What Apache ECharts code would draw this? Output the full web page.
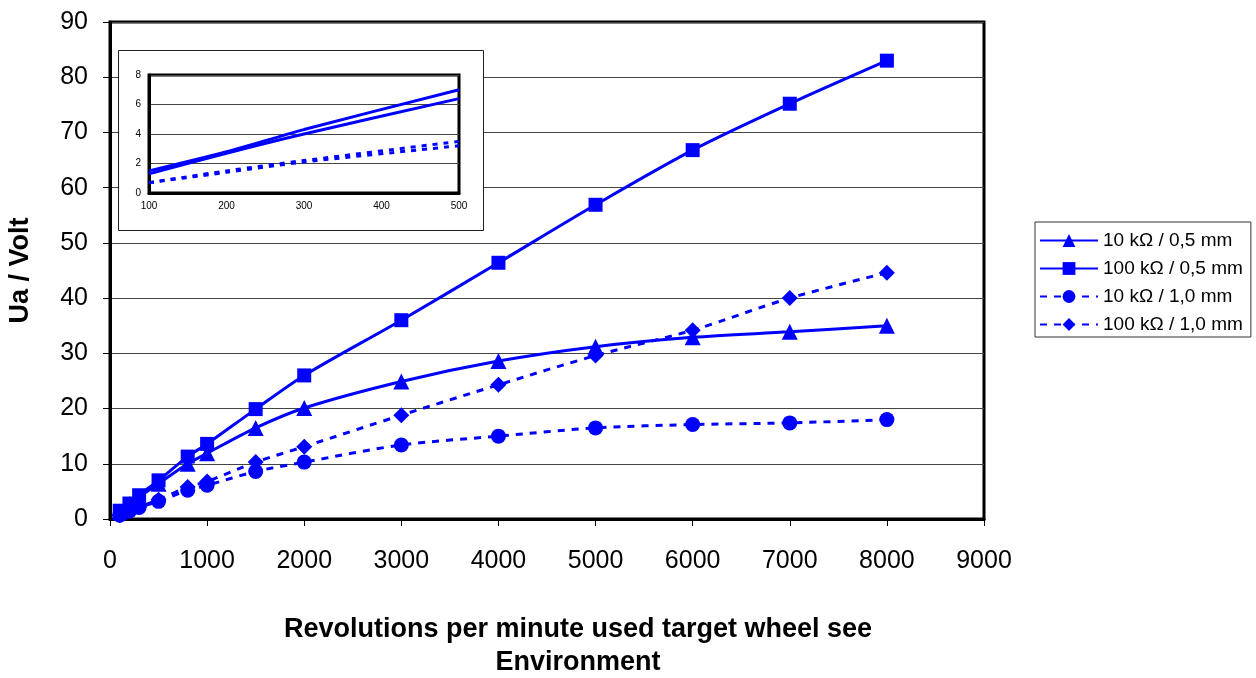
<!DOCTYPE html>
<html>
<head>
<meta charset="utf-8">
<script src="https://cdn.jsdelivr.net/npm/echarts@6/dist/echarts.min.js"></script>
<style>
  html, body { margin: 0; padding: 0; background: #fff; }
  #chart { width: 1256px; height: 678px; }
</style>
</head>
<body>
<div id="chart"></div>
<script>
(function() {
  var rpm = [100, 200, 300, 500, 800, 1000, 1500, 2000, 3000, 4000, 5000, 6000, 7000, 8000];
  var s10k05 = [1.3, 2.7, 4.0, 6.4, 10.0, 11.9, 16.5, 20.1, 24.9, 28.6, 31.2, 32.9, 33.9, 35.0];
  var s100k05 = [1.5, 2.8, 4.3, 7.0, 11.3, 13.6, 19.9, 26.0, 36.0, 46.4, 56.9, 66.8, 75.2, 83.0];
  var s10k10 = [0.7, 1.4, 2.1, 3.2, 5.2, 6.1, 8.6, 10.3, 13.4, 15.0, 16.5, 17.1, 17.4, 18.0];
  var s100k10 = [0.7, 1.5, 2.2, 3.5, 5.8, 6.8, 10.3, 13.1, 18.8, 24.3, 29.6, 34.2, 40.0, 44.6];
  var names = ['10 kΩ / 0,5 mm', '100 kΩ / 0,5 mm', '10 kΩ / 1,0 mm', '100 kΩ / 1,0 mm'];
  var insetMaxRpm = 500;

  var blue = '#0000ff';
  var font = '"Liberation Sans", Arial, sans-serif';

  function pairs(vals, maxX) {
    var out = [];
    for (var i = 0; i < rpm.length; i++) {
      if (maxX == null || rpm[i] <= maxX) out.push([rpm[i], vals[i]]);
    }
    return out;
  }

  var dashed = [7, 7];
  var seriesDefs = [
    { name: names[0], vals: s10k05, symbol: 'triangle', size: 16, dash: 'solid' },
    { name: names[1], vals: s100k05, symbol: 'rect', size: 14, dash: 'solid' },
    { name: names[2], vals: s10k10, symbol: 'circle', size: 15, dash: dashed },
    { name: names[3], vals: s100k10, symbol: 'diamond', size: 16, dash: dashed }
  ];

  var series = [];
  seriesDefs.forEach(function(d) {
    series.push({
      name: d.name,
      type: 'line',
      xAxisIndex: 0,
      yAxisIndex: 0,
      data: pairs(d.vals),
      smooth: 0.3,
      symbol: d.symbol,
      symbolSize: d.size,
      showSymbol: true,
      itemStyle: { color: blue },
      lineStyle: { color: blue, width: 3, type: d.dash },
      z: 2
    });
  });
  seriesDefs.forEach(function(d) {
    series.push({
      name: d.name + ' (inset)',
      type: 'line',
      xAxisIndex: 1,
      yAxisIndex: 1,
      data: pairs(d.vals, insetMaxRpm),
      smooth: 0.3,
      showSymbol: false,
      symbol: 'none',
      itemStyle: { color: blue },
      lineStyle: { color: blue, width: 3, type: d.dash === 'solid' ? 'solid' : [5, 6] },
      z: 12,
      silent: true
    });
  });

  var chart = echarts.init(document.getElementById('chart'), null, { renderer: 'canvas' });
  chart.setOption({
    animation: false,
    backgroundColor: '#fff',
    textStyle: { fontFamily: font },
    grid: [
      { left: 110, right: 272, top: 22, bottom: 159, outerBoundsMode: 'none', containLabel: false, show: true, borderColor: '#000', borderWidth: 3, backgroundColor: 'transparent' },
      { left: 149, width: 310, top: 75, height: 118, outerBoundsMode: 'none', containLabel: false, show: true, borderColor: '#000', borderWidth: 3, backgroundColor: '#fff', z: 10 }
    ],
    graphic: [{
      type: 'rect',
      z: 5,
      shape: { x: 118.5, y: 50.5, width: 365, height: 180 },
      style: { fill: '#fff', stroke: '#222', lineWidth: 1 }
    }],
    legend: {
      data: names,
      orient: 'vertical',
      left: 1035,
      top: 222,
      padding: [9, 8, 3, 4],
      itemWidth: 58,
      itemHeight: 16,
      itemGap: 9,
      borderColor: '#333',
      borderWidth: 1,
      backgroundColor: '#fff',
      textStyle: { fontFamily: font, fontSize: 19, color: '#000' }
    },
    xAxis: [{
      type: 'value',
      gridIndex: 0,
      min: 0,
      max: 9000,
      interval: 1000,
      name: 'Revolutions per minute used target wheel see\nEnvironment',
      nameLocation: 'middle',
      nameGap: 94,
      nameTextStyle: { fontFamily: font, fontSize: 27, fontWeight: 'bold', color: '#000', lineHeight: 33, padding: [0, 0, 0, 62] },
      axisLine: { show: true, onZero: false, lineStyle: { color: '#000', width: 3 } },
      axisTick: { show: true, length: 7, lineStyle: { color: '#000', width: 1 } },
      axisLabel: { fontFamily: font, fontSize: 25, color: '#000', margin: 30, formatter: function(v) { return String(v); } },
      splitLine: { show: false }
    }, {
      type: 'value',
      gridIndex: 1,
      min: 100,
      max: 500,
      interval: 100,
      z: 11,
      axisLine: { show: true, onZero: false, lineStyle: { color: '#000', width: 3 } },
      axisTick: { show: false },
      axisLabel: { fontFamily: font, fontSize: 10, color: '#000', margin: 8 },
      splitLine: { show: false }
    }],
    yAxis: [{
      type: 'value',
      gridIndex: 0,
      min: 0,
      max: 90,
      interval: 10,
      name: 'Ua / Volt',
      nameLocation: 'middle',
      nameGap: 76,
      nameTextStyle: { fontFamily: font, fontSize: 27, fontWeight: 'bold', color: '#000' },
      axisLine: { show: true, onZero: false, lineStyle: { color: '#000', width: 3 } },
      axisTick: { show: true, length: 7, lineStyle: { color: '#000', width: 1 } },
      axisLabel: { fontFamily: font, fontSize: 25, color: '#000', margin: 22 },
      splitLine: { show: true, lineStyle: { color: '#444', width: 1 } }
    }, {
      type: 'value',
      gridIndex: 1,
      min: 0,
      max: 8,
      interval: 2,
      z: 11,
      axisLine: { show: true, onZero: false, lineStyle: { color: '#000', width: 3 } },
      axisTick: { show: false },
      axisLabel: { fontFamily: font, fontSize: 10, color: '#000', margin: 8 },
      splitLine: { show: true, lineStyle: { color: '#444', width: 1 } }
    }],
    series: series
  });
  window.addEventListener('resize', function() { chart.resize(); });
})();
</script>
</body>
</html>
